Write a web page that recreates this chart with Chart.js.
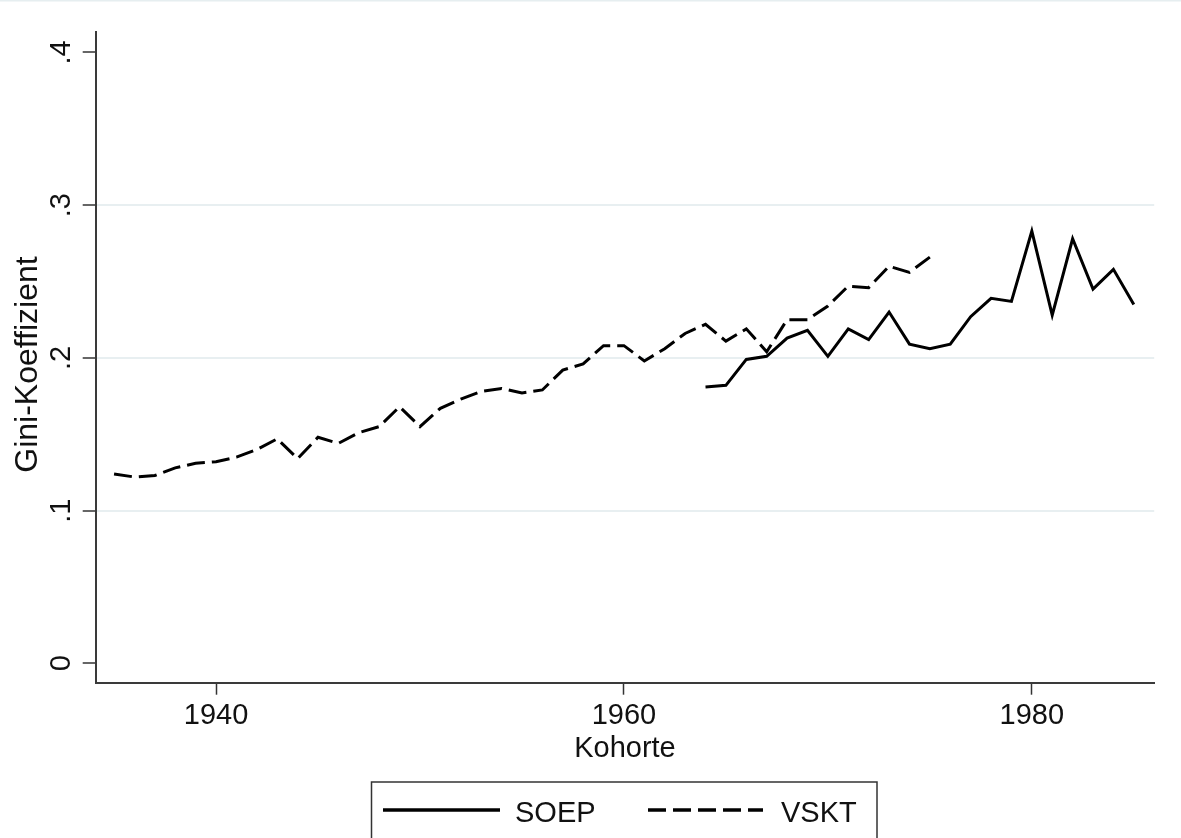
<!DOCTYPE html>
<html>
<head>
<meta charset="utf-8">
<title>Gini-Koeffizient nach Kohorte</title>
<script src="https://cdn.jsdelivr.net/npm/chart.js@4.4.1/dist/chart.umd.min.js"></script>
<style>
  html, body { margin: 0; padding: 0; background: #fff; }
  #wrap { width: 1181px; height: 838px; }
</style>
</head>
<body>
<div id="wrap"><canvas id="giniChart" width="1181" height="838"></canvas></div>
<script>
// values
var soepYears = [1964, 1965, 1966, 1967, 1968, 1969, 1970, 1971, 1972, 1973, 1974,
                 1975, 1976, 1977, 1978, 1979, 1980, 1981, 1982, 1983, 1984, 1985];
var soepValues = [.181, .182, .199, .201, .213, .218, .201, .219, .212, .230, .209,
                  .206, .209, .227, .239, .237, .283, .228, .278, .245, .258, .235];

var vsktYears = [1935, 1936, 1937, 1938, 1939, 1940, 1941, 1942, 1943, 1944,
                 1945, 1946, 1947, 1948, 1949, 1950, 1951, 1952, 1953, 1954,
                 1955, 1956, 1957, 1958, 1959, 1960, 1961, 1962, 1963, 1964,
                 1965, 1966, 1967, 1968, 1969, 1970, 1971, 1972, 1973, 1974, 1975];
var vsktValues = [.124, .122, .123, .128, .131, .132, .135, .140, .147, .134,
                  .148, .144, .151, .155, .168, .155, .167, .173, .178, .180,
                  .177, .179, .192, .196, .208, .208, .198, .206, .216, .222,
                  .211, .219, .204, .225, .225, .234, .247, .246, .260, .256, .266];

var xTicks = [1940, 1960, 1980];
var yTicks = [0, .1, .2, .3, .4];
var yTickLabels = ['0', '.1', '.2', '.3', '.4'];
var yTitle = 'Gini-Koeffizient';

function toPoints(xs, ys) {
  return xs.map(function (x, i) { return { x: x, y: ys[i] }; });
}

var FONT = '"Liberation Sans", Arial, sans-serif';
Chart.defaults.font.family = FONT;
Chart.defaults.color = '#111';

// y tick labels + y title (rotated, like Stata), framed legend, outer border
var stataDecor = {
  id: 'stataDecor',
  afterDraw: function (chart) {
    var ctx = chart.ctx;
    var y = chart.scales.y;
    ctx.save();
    ctx.fillStyle = '#e6eef0';
    ctx.fillRect(0, 0, chart.width, 1.5);

    ctx.fillStyle = '#111';
    ctx.font = '29px ' + FONT;
    ctx.textAlign = 'center';
    ctx.textBaseline = 'alphabetic';
    yTicks.forEach(function (v, i) {
      ctx.save();
      ctx.translate(70, y.getPixelForValue(v));
      ctx.rotate(-Math.PI / 2);
      ctx.fillText(yTickLabels[i], 0, 0);
      ctx.restore();
    });

    // axis title
    ctx.save();
    ctx.font = '32px ' + FONT;
    ctx.translate(37, (y.top + y.bottom) / 2 + 7);
    ctx.rotate(-Math.PI / 2);
    ctx.fillText(yTitle, 0, 0);
    ctx.restore();

    // legend
    ctx.strokeStyle = '#333';
    ctx.lineWidth = 1.5;
    ctx.strokeRect(371.5, 782, 505.5, 70);
    var items = [
      { ds: chart.data.datasets[0], x0: 383, x1: 500, tx: 515 },
      { ds: chart.data.datasets[1], x0: 648, x1: 763, tx: 781 }
    ];
    items.forEach(function (it) {
      ctx.beginPath();
      ctx.setLineDash(it.ds.borderDash || []);
      ctx.lineWidth = 3.3;
      ctx.strokeStyle = '#000';
      ctx.moveTo(it.x0, 810);
      ctx.lineTo(it.x1, 810);
      ctx.stroke();
      ctx.setLineDash([]);
      ctx.textAlign = 'left';
      ctx.fillText(it.ds.label, it.tx, 821.5);
    });
    ctx.restore();
  }
};

var ctx = document.getElementById('giniChart').getContext('2d');
var chart = new Chart(ctx, {
  type: 'line',
  data: {
    datasets: [{
      label: 'SOEP',
      data: toPoints(soepYears, soepValues),
      borderColor: '#000',
      borderWidth: 3,
      pointRadius: 0,
      tension: 0,
      fill: false
    }, {
      label: 'VSKT',
      data: toPoints(vsktYears, vsktValues),
      borderColor: '#000',
      borderWidth: 3,
      borderDash: [18, 7],
      pointRadius: 0,
      tension: 0,
      fill: false
    }]
  },
  options: {
    responsive: false,
    animation: false,
    devicePixelRatio: 1,
    layout: { padding: { top: 32.3, right: 26.8, bottom: 56, left: 0 } },
    plugins: {
      legend: { display: false },
      tooltip: { enabled: false }
    },
    scales: {
      x: {
        type: 'linear',
        min: 1934.1,
        max: 1986.0,
        afterBuildTicks: function (scale) {
          scale.ticks = xTicks.map(function (v) { return { value: v }; });
        },
        afterFit: function (scale) { scale.height = 99.3; },
        ticks: {
          autoSkip: false,
          maxRotation: 0,
          padding: 4,
          font: { size: 29 },
          color: '#111',
          callback: function (v) { return String(v); }
        },
        grid: {
          drawOnChartArea: false,
          drawTicks: true,
          tickLength: 12,
          tickColor: '#333',
          tickWidth: 1.5
        },
        border: { color: '#3a3a3a', width: 2 },
        title: {
          display: true,
          text: 'Kohorte',
          font: { size: 29 },
          color: '#111',
          padding: { top: 0, bottom: 16 }
        }
      },
      y: {
        type: 'linear',
        min: -0.0127,
        max: 0.4132,
        afterBuildTicks: function (scale) {
          scale.ticks = yTicks.map(function (v) { return { value: v }; });
        },
        afterFit: function (scale) { scale.width = 95.7; },
        ticks: { display: false },
        grid: {
          color: function (c) {
            var v = c.tick ? c.tick.value : 0;
            return (v > 0.05 && v < 0.35) ? '#e8eff1' : 'rgba(0,0,0,0)';
          },
          lineWidth: 2,
          drawTicks: true,
          tickLength: 13,
          tickColor: '#333',
          tickWidth: 1.5
        },
        border: { color: '#3a3a3a', width: 2 },
        title: { display: false }
      }
    }
  },
  plugins: [stataDecor]
});
</script>
</body>
</html>
